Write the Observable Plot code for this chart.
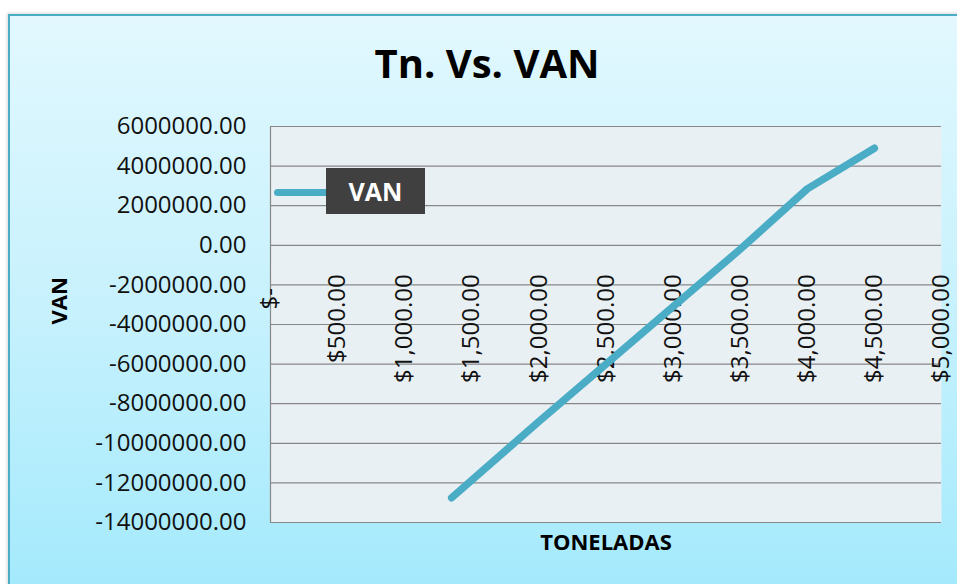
<!DOCTYPE html>
<html>
<head>
<meta charset="utf-8">
<script src="https://cdn.jsdelivr.net/npm/d3@7"></script>
<script src="https://cdn.jsdelivr.net/npm/@observablehq/plot@0.6"></script>
<style>
  html, body { margin: 0; padding: 0; background: #ffffff; }
  body { width: 957px; height: 584px; position: relative; overflow: hidden; font-family: "Open Sans", sans-serif; }
  #frame { position: absolute; left: 8px; top: 14px; width: 970px; height: 600px;
    border-left: 2px solid #4BACC6; border-top: 2px solid #4BACC6;
    background: linear-gradient(to bottom, #E2F8FE 0%, #C6F1FD 50%, #A0E9FC 100%);
    box-shadow: -1px -1px 3px rgba(0,0,0,0.15); }
  #title { position: absolute; left: 287px; width: 400px; top: 38px; text-align: center;
    font-weight: 700; font-size: 40px; line-height: 50px; color: #000; }
  #plot { position: absolute; left: 0; top: 0; }
  #legline { position: absolute; left: 274px; top: 188.5px; width: 60px; height: 7px; border-radius: 4px; background: #4BACC6; }
  #legbox { position: absolute; left: 326px; top: 168px; width: 99px; height: 46px; background: #404040;
    color: #fff; font-weight: 700; font-size: 25px; line-height: 46px; text-align: center; }
</style>
</head>
<body>
<div id="frame"></div>
<div id="plot"></div>
<div id="title">Tn. Vs. VAN</div>
<div id="legline"></div>
<div id="legbox">VAN</div>
<script>
const tons = [1350, 2000, 2500, 3000, 3500, 4000, 4500];
const van = [-12750000, -8900000, -6000000, -3100000, -200000, 2850000, 4900000];
const yTicks = [6000000, 4000000, 2000000, 0, -2000000, -4000000, -6000000, -8000000, -10000000, -12000000, -14000000];
const yTickLabels = ["6000000.00", "4000000.00", "2000000.00", "0.00", "-2000000.00", "-4000000.00", "-6000000.00", "-8000000.00", "-10000000.00", "-12000000.00", "-14000000.00"];
const xTicks = [0, 500, 1000, 1500, 2000, 2500, 3000, 3500, 4000, 4500, 5000];
const xTickLabels = ["$-\u2007", "$500.00", "$1,000.00", "$1,500.00", "$2,000.00", "$2,500.00", "$3,000.00", "$3,500.00", "$4,000.00", "$4,500.00", "$5,000.00"];

const data = tons.map((t, i) => ({t, v: van[i]}));
const xt = xTicks.map((x, i) => ({x, label: xTickLabels[i]}));
const yLab = new Map(yTicks.map((y, i) => [y, yTickLabels[i]]));

const chart = Plot.plot({
  width: 957,
  height: 584,
  marginLeft: 270,
  marginRight: 16,
  marginTop: 126,
  marginBottom: 62,
  style: {background: "transparent", fontFamily: "'Open Sans', sans-serif", color: "#000"},
  x: {domain: [0, 5000], axis: null},
  y: {domain: [-14000000, 6000000], axis: null},
  marks: [
    Plot.frame({fill: "#E9F0F4", stroke: null}),
    Plot.gridY(yTicks, {stroke: "#878787", strokeOpacity: 1, strokeWidth: 1.2}),
    Plot.ruleX([0], {stroke: "#878787", strokeWidth: 1.2}),
    Plot.axisY(yTicks, {tickSize: 0, tickPadding: 24, fontSize: 24, tickFormat: d => yLab.get(d), label: null, fill: "#111"}),
    Plot.text(xt, {x: "x", y: () => 0, text: "label", rotate: -90, textAnchor: "end", lineAnchor: "middle", dy: 29, fontSize: 24, fill: "#111"}),
    Plot.line(data, {x: "t", y: "v", stroke: "#4BACC6", strokeWidth: 7.5, strokeLinecap: "round", strokeLinejoin: "round"}),
    Plot.text(["VAN"], {frameAnchor: "left", dx: -211, rotate: -90, fontSize: 22, fontWeight: "bold", fill: "#000"}),
    Plot.text(["TONELADAS"], {frameAnchor: "bottom", dy: 27, fontSize: 22, fontWeight: "bold", fill: "#000"})
  ]
});
document.getElementById("plot").appendChild(chart);
</script>
</body>
</html>
